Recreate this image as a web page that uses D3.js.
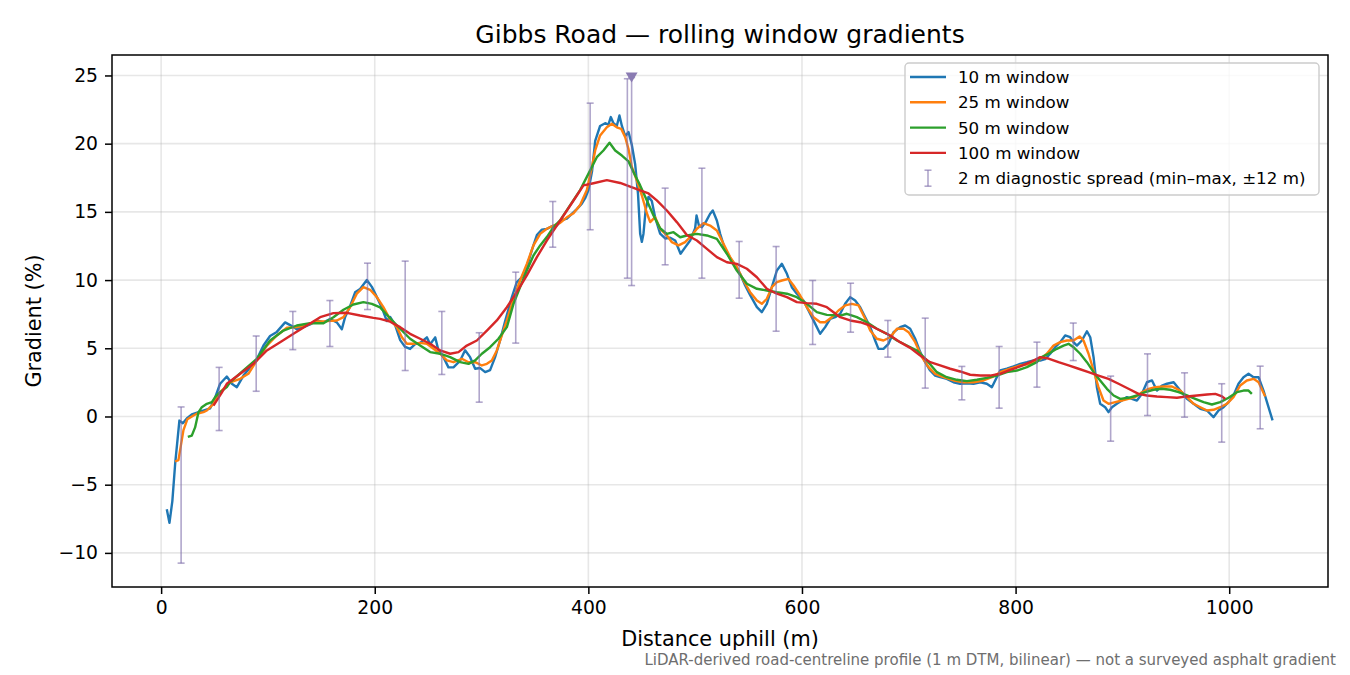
<!DOCTYPE html>
<html>
<head>
<meta charset="utf-8">
<script src="https://cdn.jsdelivr.net/npm/d3@7"></script>
<style>
  body { margin: 0; background: #fff; }
  svg text { font-family: "DejaVu Sans", sans-serif; }
</style>
</head>
<body>
<div id="chart"></div>
<script>
// rolling window gradients, [distance m, gradient %]
var win10 = [[5.3,-6.8],[7.8,-7.8],[10.5,-6.2],[13.1,-3.5],[17.1,-0.3],[20.3,-0.5],[24.6,-0.1],[28.7,0.15],[36.5,0.35],[45.9,0.6],[50.6,1.4],[55.2,2.4],[61.5,2.93],[66.2,2.4],[70.9,2.15],[77.1,3.0],[83.3,3.6],[89.6,4.2],[95.8,5.2],[102,5.9],[108.3,6.2],[116.1,6.9],[120.8,6.7],[127,6.4],[133.2,6.55],[139.5,6.75],[145.8,7.05],[152,6.9],[158.2,7.15],[164.5,6.9],[169.2,6.4],[172.3,7.3],[177,8.1],[181.6,9.1],[186.3,9.35],[192.6,10.0],[197.3,9.5],[202,8.75],[206.6,8.0],[211.3,7.0],[214.4,7.3],[219.1,6.7],[223.8,5.6],[228.5,5.1],[233.1,4.95],[237.8,5.3],[242.5,5.4],[248.8,5.8],[251.9,5.3],[256.6,5.8],[259.6,4.85],[264.3,4.35],[269,3.6],[273.7,3.6],[280,4.1],[284.6,4.85],[289.3,4.35],[294,3.5],[298.7,3.55],[303.4,3.25],[308,3.4],[312.7,4.35],[317.4,5.6],[322.1,7.0],[328.4,8.75],[333,9.85],[337.7,10.2],[342.4,10.95],[347.1,12.2],[351.8,13.3],[356.5,13.7],[361.1,13.75],[365.8,13.95],[370.5,14.0],[375.2,14.4],[379.9,14.5],[384.5,14.85],[389.2,15.2],[393.9,15.6],[397,16.0],[400.1,16.6],[403.5,18.0],[406.4,20.2],[411,21.3],[415.7,21.5],[418.8,21.4],[421,21.95],[423.5,21.5],[426.6,21.3],[429.1,22.07],[431.4,21.3],[434.5,20.55],[437.6,20.85],[440.7,19.9],[443.8,18.5],[446.5,16.3],[448.5,13.4],[450.1,12.8],[451.6,13.4],[453.7,15.2],[456.3,16.1],[459.4,15.8],[462.5,14.6],[467.2,13.4],[471.9,13.05],[476.6,13.1],[481.3,12.9],[486.3,11.93],[490.6,12.4],[495.3,12.9],[500,13.8],[501.3,14.74],[503.5,14.0],[506.3,13.88],[510.2,14.3],[514,14.86],[516.5,15.1],[520.3,14.37],[523.4,13.39],[528.1,12.2],[532.8,11.6],[537.5,11.1],[542.1,10.46],[546.8,9.6],[551.5,8.9],[557.8,8.02],[562.4,7.65],[567.1,8.26],[571.8,9.48],[576.5,10.7],[581.2,11.19],[585.9,10.46],[590.5,9.48],[595.2,9.0],[601.4,8.5],[606.1,7.77],[612.4,6.79],[617,6.06],[621.7,6.55],[626.4,7.16],[631.1,7.28],[635.8,7.53],[640.4,8.26],[645.1,8.75],[649.8,8.5],[654.5,8.01],[659.2,7.28],[663.9,6.55],[668.5,5.57],[671.6,4.96],[676.3,4.96],[681,5.33],[685.7,6.18],[691.9,6.55],[696.6,6.67],[701.3,6.43],[706,5.7],[710.7,4.72],[715.4,3.98],[720,3.37],[724.7,3.0],[729.4,2.88],[735.6,2.76],[741.9,2.51],[748.1,2.4],[754.4,2.44],[760.6,2.4],[766.9,2.51],[773.1,2.4],[777.8,2.15],[780.9,2.64],[785.6,3.37],[791.8,3.5],[798.1,3.67],[804.3,3.86],[810.6,3.98],[816.8,4.11],[823,4.1],[827.7,4.2],[832.4,4.6],[837.1,5.08],[841.8,5.45],[846.4,5.94],[851.1,5.81],[854.2,5.45],[857.4,5.2],[862.1,5.57],[866.8,6.25],[869.9,5.81],[873,4.35],[876.1,2.15],[879.2,0.93],[883.9,0.68],[887,0.32],[890.2,0.68],[894.8,0.93],[899.5,1.17],[904.2,1.42],[908.9,1.29],[913.6,1.17],[918.3,1.66],[923,2.51],[927.7,2.64],[932.3,1.9],[937,2.27],[941.7,2.4],[948,2.51],[954.2,1.9],[960.5,1.29],[966.7,0.93],[973,0.56],[979.1,0.44],[985.3,-0.05],[990,0.44],[994.7,0.68],[999.4,1.05],[1004,1.54],[1008.7,2.4],[1013.4,2.88],[1018.1,3.13],[1022.8,2.88],[1027.5,2.88],[1032.1,1.9],[1036.8,0.68],[1040.6,-0.29]];

var win25 = [[13.1,-3.3],[16.2,-3.2],[20.9,-1.0],[24.6,-0.2],[30.3,0.07],[33.4,0.2],[39.6,0.32],[42.8,0.44],[49,0.93],[52.1,1.5],[56.8,1.9],[61.5,2.27],[64.6,2.5],[74,2.76],[81.7,3.13],[89.6,4.11],[99,5.2],[108.3,5.94],[117.7,6.5],[127,6.55],[136.4,6.74],[145.8,6.96],[155.1,6.99],[164.5,7.04],[170.7,7.28],[177,8.02],[183.2,9.0],[189.4,9.48],[195.7,9.29],[202,8.75],[208.1,8.02],[214.4,7.1],[220.7,6.55],[225.4,5.81],[230.1,5.33],[236.3,5.33],[242.5,5.4],[248.8,5.33],[255,4.96],[261.2,4.6],[267.5,4.11],[273.7,3.98],[281.6,4.23],[287.8,3.98],[294,3.98],[300.3,3.74],[305,3.86],[309.6,4.11],[314.3,4.84],[319,5.94],[323.7,7.04],[329.9,8.63],[336.1,9.97],[342.4,11.19],[348.6,12.54],[354.9,13.39],[361.1,13.76],[367.3,14.0],[373.6,14.2],[379.9,14.6],[386.1,14.9],[392.3,15.5],[398.6,16.6],[403.3,18.28],[406.4,19.5],[411,20.6],[417.3,21.2],[422,21.46],[426.6,21.2],[430.7,21.09],[434.5,20.48],[437.6,19.6],[440.7,18.3],[445.4,17.3],[450.1,16.2],[454.8,14.9],[457.9,14.25],[462.5,14.61],[467.2,13.76],[473.5,13.27],[478.2,12.78],[484.4,12.54],[490.6,12.78],[496.9,13.27],[501.6,13.76],[507.8,14.17],[514,14.0],[520.3,13.64],[526.5,12.66],[532.8,11.68],[539,10.95],[545.2,9.97],[551.5,9.11],[557.8,8.5],[562.4,8.26],[567.1,8.63],[571.8,9.48],[576.5,9.85],[581.2,9.97],[587.4,10.09],[592.1,9.6],[598.3,8.87],[604.6,8.01],[610.8,7.28],[617,6.91],[621.7,6.91],[628,7.28],[634.2,7.77],[640.4,8.14],[646.7,8.26],[653,8.14],[659.2,7.16],[663.9,6.3],[670.1,5.7],[676.3,5.57],[682.6,5.81],[688.9,6.43],[695.1,6.43],[699.8,6.18],[706,5.45],[712.3,4.35],[718.5,3.62],[724.7,3.13],[732.5,2.88],[741.9,2.64],[751.2,2.51],[760.6,2.51],[770,2.64],[777.8,2.88],[785.6,3.25],[794.9,3.5],[804.3,3.74],[813.7,3.86],[823,4.2],[829.3,4.6],[835.5,5.2],[841.8,5.45],[848,5.57],[854.2,5.57],[859.9,5.87],[863.6,5.57],[868.3,4.6],[873,3.37],[877.6,2.15],[882.3,1.17],[887,0.93],[893.3,1.05],[899.5,1.17],[905.7,1.29],[912,1.42],[918.3,1.78],[924.5,2.03],[930.8,2.15],[938.6,2.2],[946.4,2.2],[954.2,1.9],[960.5,1.42],[966.7,0.93],[973,0.68],[979.2,0.44],[985.3,0.49],[991.6,0.68],[997.8,0.93],[1004,1.42],[1010.3,2.27],[1016.5,2.64],[1022.8,2.76],[1027.5,2.51],[1033.7,1.47]];

var win50 = [[25,-1.5],[28.7,-1.4],[31.8,-0.8],[34.9,0.3],[38.1,0.68],[42.8,0.93],[47.5,1.05],[50.6,1.42],[55.2,1.78],[61.5,2.15],[64.6,2.52],[77.1,3.37],[89.6,4.23],[102,5.57],[114.5,6.3],[127,6.67],[139.5,6.84],[152,6.84],[161.3,7.28],[170.7,7.82],[180,8.21],[189.4,8.38],[197.3,8.26],[205,8.0],[214.4,7.2],[223.8,6.43],[233.1,5.7],[242.5,5.2],[251.9,4.72],[261.2,4.6],[270.6,4.35],[280,3.98],[287.8,3.86],[294,4.11],[300.3,4.6],[308,5.08],[315.8,5.7],[323.7,6.55],[329.9,8.26],[336.1,9.48],[342.4,10.7],[348.6,11.8],[354.9,12.54],[361.1,13.15],[367.3,13.88],[373.6,14.37],[383,15.5],[392.3,16.6],[401.7,18.04],[407.9,19.01],[414.1,19.5],[419.8,20.07],[425.1,19.5],[431.4,19.13],[437.6,18.7],[442.3,17.9],[448.5,16.94],[454.8,15.84],[461,14.74],[467.2,13.8],[473.5,13.39],[479.7,13.51],[486,13.14],[492.2,13.27],[501.6,13.39],[511,13.27],[520.3,13.02],[529.7,11.93],[539,10.7],[548.4,9.73],[557.8,9.36],[567.1,9.24],[576.5,9.11],[585.9,9.0],[595.2,8.75],[604.6,8.26],[613.9,7.65],[623.3,7.45],[635.8,7.4],[642,7.53],[651.4,7.28],[660.8,6.91],[670.1,6.43],[679.5,6.06],[688.9,5.57],[698.2,5.2],[707.6,4.84],[717,4.11],[726.3,3.25],[735.6,2.88],[745,2.69],[754.4,2.59],[763.8,2.69],[773.1,2.83],[782.5,3.0],[791.8,3.25],[801.2,3.37],[810.6,3.62],[819.9,3.98],[823,4.3],[830.8,4.6],[838.6,4.96],[844.9,5.2],[849.6,5.33],[854.2,5.08],[860.5,4.6],[866.8,3.98],[873,3.25],[879.2,2.64],[885.5,2.03],[891.8,1.54],[898,1.29],[905.7,1.37],[913.6,1.54],[921.3,1.78],[929.1,1.96],[937,2.03],[944.8,1.96],[952.6,1.78],[960.5,1.54],[968.2,1.29],[976,1.05],[983.8,0.88],[991.6,1.05],[999.4,1.37],[1007.2,1.78],[1013.4,1.9],[1018.1,1.9],[1021.2,1.66]];

var win100 = [[49,0.8],[56.8,1.75],[61.5,2.4],[74,3.13],[86.4,3.86],[99,4.84],[111.4,5.45],[123.9,6.06],[136.4,6.67],[148.9,7.28],[161.3,7.58],[173.9,7.6],[186.3,7.4],[198.8,7.23],[205,7.16],[214.4,6.95],[223.8,6.55],[233.1,6.06],[242.5,5.7],[251.9,5.33],[261.2,4.84],[270.6,4.6],[278.4,4.72],[286.2,5.2],[295.6,5.57],[305,6.3],[314.3,7.04],[323.7,8.01],[333,9.11],[342.4,10.34],[351.8,11.68],[361.1,12.9],[370.5,14.0],[379.9,15.1],[389.2,16.2],[395.4,16.94],[404.8,17.1],[417.3,17.33],[429.8,17.12],[439.1,16.85],[448.5,16.57],[456.3,16.35],[464.1,15.84],[473.5,15.1],[482.8,14.25],[492.2,13.3],[501.6,12.9],[511,12.29],[520.3,11.68],[529.7,11.31],[539,11.19],[548.4,10.83],[557.8,10.21],[567.1,9.36],[576.5,9.0],[585.9,8.75],[595.2,8.38],[604.6,8.31],[613.9,8.26],[623.3,8.01],[635.8,7.28],[645.1,7.04],[654.5,6.91],[663.9,6.67],[673.2,6.3],[682.6,5.94],[691.9,5.45],[701.3,5.03],[710.7,4.47],[720,3.98],[729.4,3.74],[738.8,3.5],[748.1,3.3],[757.5,3.06],[766.9,3.0],[776.2,3.0],[785.6,3.13],[794.9,3.42],[804.3,3.67],[813.7,3.98],[823,4.35],[830.8,4.25],[840.2,3.98],[849.6,3.74],[859,3.5],[868.3,3.25],[877.6,3.0],[887,2.76],[896.4,2.4],[905.7,2.03],[915.1,1.66],[922.9,1.54],[932.3,1.47],[941.7,1.42],[951.1,1.37],[960.5,1.47],[969.9,1.54],[979.2,1.61],[987,1.66],[993.3,1.47],[996.3,1.29]];

// 2 m diagnostic spread (min-max within +-12 m)
var spreadX   = [18.7, 54.3, 89, 123.3, 158, 193.2, 228.5, 262.8, 297.8, 332, 366.7, 401.7, 436.5, 440.5, 471.9, 506.3, 541.2, 575.8, 610, 645.5, 680.4, 715.4, 749.7, 784.6, 820, 854, 889, 923.5, 958.2, 993, 1029];
var spreadMax = [0.7, 3.6, 5.9, 7.7, 8.5, 11.24, 11.39, 7.7, 6.14, 10.58, 15.76, 22.97, 24.76, 24.85, 16.74, 18.2, 12.83, 12.46, 9.97, 9.77, 7.04, 7.21, 3.67, 5.13, 5.45, 6.85, 2.96, 4.59, 3.2, 2.4, 3.69];
var spreadMin = [-10.75, -1.03, 1.85, 4.9, 5.13, 7.84, 3.37, 3.08, 1.05, 5.38, 12.41, 13.69, 10.14, 9.6, 11.12, 10.14, 8.67, 6.25, 5.28, 6.18, 4.35, 2.08, 1.22, 0.61, 2.15, 4.1, -1.81, 0.07, -0.05, -1.88, -0.9];

// steepest 2 m point marker
var peakX = [440.5];
var peakY = [24.85];

var seriesNames  = ["10 m window", "25 m window", "50 m window", "100 m window"];
var seriesColors = ["#1f77b4", "#ff7f0e", "#2ca02c", "#d62728"];
var spreadLabel  = "2 m diagnostic spread (min\u2013max, \u00b112 m)";

var xTicks = [0, 200, 400, 600, 800, 1000];
var yTicks = [-10, -5, 0, 5, 10, 15, 20, 25];

var svgWidth = 1350;
var svgHeight = 675;
var margin = { top: 55, right: 22, bottom: 88, left: 112 };
var width = svgWidth - margin.left - margin.right;
var height = svgHeight - margin.top - margin.bottom;

var svg = d3.select("#chart")
  .append("svg")
  .attr("width", svgWidth)
  .attr("height", svgHeight);

var chartGroup = svg.append("g")
  .attr("transform", `translate(${margin.left}, ${margin.top})`);

var xScale = d3.scaleLinear().domain([-46, 1092.5]).range([0, width]);
var yScale = d3.scaleLinear().domain([-12.5, 26.5]).range([height, 0]);

// grid
chartGroup.append("g").selectAll("line").data(xTicks).enter().append("line")
  .attr("x1", d => xScale(d)).attr("x2", d => xScale(d))
  .attr("y1", 0).attr("y2", height)
  .attr("stroke", "#b0b0b0").attr("stroke-opacity", 0.3).attr("stroke-width", 1.6);
chartGroup.append("g").selectAll("line").data(yTicks).enter().append("line")
  .attr("y1", d => yScale(d)).attr("y2", d => yScale(d))
  .attr("x1", 0).attr("x2", width)
  .attr("stroke", "#b0b0b0").attr("stroke-opacity", 0.3).attr("stroke-width", 1.6);

// lines
var line = d3.line().x(d => xScale(d[0])).y(d => yScale(d[1]));
[win10, win25, win50, win100].forEach(function(s, i) {
  chartGroup.append("path")
    .datum(s)
    .attr("d", line)
    .attr("fill", "none")
    .attr("stroke", seriesColors[i])
    .attr("stroke-width", 2.4)
    .attr("stroke-linejoin", "round");
});

// error bars
var spread = spreadX.map((x, i) => ({ x: x, lo: spreadMin[i], hi: spreadMax[i] }));
var barColor = "#7b6aa8";
var eb = chartGroup.append("g").attr("stroke", barColor).attr("stroke-opacity", 0.6).attr("stroke-width", 1.6);
eb.selectAll(".v").data(spread).enter().append("line")
  .attr("x1", d => xScale(d.x)).attr("x2", d => xScale(d.x))
  .attr("y1", d => yScale(d.lo)).attr("y2", d => yScale(d.hi));
eb.selectAll(".t").data(spread).enter().append("line")
  .attr("x1", d => xScale(d.x) - 3.5).attr("x2", d => xScale(d.x) + 3.5)
  .attr("y1", d => yScale(d.hi)).attr("y2", d => yScale(d.hi));
eb.selectAll(".b").data(spread).enter().append("line")
  .attr("x1", d => xScale(d.x) - 3.5).attr("x2", d => xScale(d.x) + 3.5)
  .attr("y1", d => yScale(d.lo)).attr("y2", d => yScale(d.lo));

// peak marker
chartGroup.selectAll(".peak").data(peakX).enter().append("path")
  .attr("transform", (d, i) => `translate(${xScale(d)}, ${yScale(peakY[i])})`)
  .attr("d", "M-6,-5L6,-5L0,5Z")
  .attr("fill", "#8a7bb2");

// axes
var bottomAxis = d3.axisBottom(xScale).tickValues(xTicks).tickFormat(d3.format("d"))
  .tickSize(7).tickPadding(7).tickSizeOuter(0);
var leftAxis = d3.axisLeft(yScale).tickValues(yTicks).tickFormat(d3.format("d"))
  .tickSize(7).tickPadding(7).tickSizeOuter(0);

chartGroup.append("g")
  .attr("transform", `translate(0, ${height})`)
  .call(bottomAxis)
  .call(g => g.selectAll("text").attr("font-size", 18.75).attr("fill", "#000"))
  .call(g => g.selectAll("line").attr("stroke-width", 1.5));
chartGroup.append("g")
  .call(leftAxis)
  .call(g => g.selectAll("text").attr("font-size", 18.75).attr("fill", "#000"))
  .call(g => g.selectAll("line").attr("stroke-width", 1.5));
chartGroup.selectAll(".domain").remove();

chartGroup.append("rect")
  .attr("width", width).attr("height", height)
  .attr("fill", "none").attr("stroke", "#000").attr("stroke-width", 1.5);

// titles
svg.append("text")
  .attr("x", margin.left + width / 2).attr("y", 43)
  .attr("text-anchor", "middle").attr("font-size", 25)
  .text("Gibbs Road \u2014 rolling window gradients");

svg.append("text")
  .attr("x", margin.left + width / 2).attr("y", 646)
  .attr("text-anchor", "middle").attr("font-size", 20.8)
  .text("Distance uphill (m)");

svg.append("text")
  .attr("transform", `translate(41, ${margin.top + height / 2}) rotate(-90)`)
  .attr("text-anchor", "middle").attr("font-size", 20.8)
  .text("Gradient (%)");

svg.append("text")
  .attr("x", 1336).attr("y", 665)
  .attr("text-anchor", "end").attr("font-size", 15).attr("fill", "#6e6e6e")
  .text("LiDAR-derived road-centreline profile (1 m DTM, bilinear) \u2014 not a surveyed asphalt gradient");

// legend
var legend = svg.append("g").attr("transform", "translate(905, 63)");
legend.append("rect")
  .attr("width", 414).attr("height", 132).attr("rx", 4)
  .attr("fill", "#fff").attr("fill-opacity", 0.8)
  .attr("stroke", "#cccccc").attr("stroke-width", 1.4);
seriesNames.forEach(function(name, i) {
  var y = 14 + i * 25.3;
  legend.append("line")
    .attr("x1", 5).attr("x2", 41).attr("y1", y).attr("y2", y)
    .attr("stroke", seriesColors[i]).attr("stroke-width", 2.4);
  legend.append("text")
    .attr("x", 53).attr("y", y + 6).attr("font-size", 16.7)
    .text(name);
});
var ly = 14 + 4 * 25.3;
var lg = legend.append("g").attr("stroke", barColor).attr("stroke-opacity", 0.6).attr("stroke-width", 1.6);
lg.append("line").attr("x1", 23).attr("x2", 23).attr("y1", ly - 8).attr("y2", ly + 8);
lg.append("line").attr("x1", 19.5).attr("x2", 26.5).attr("y1", ly - 8).attr("y2", ly - 8);
lg.append("line").attr("x1", 19.5).attr("x2", 26.5).attr("y1", ly + 8).attr("y2", ly + 8);
legend.append("text")
  .attr("x", 53).attr("y", ly + 6).attr("font-size", 16.7)
  .text(spreadLabel);
</script>
</body>
</html>
